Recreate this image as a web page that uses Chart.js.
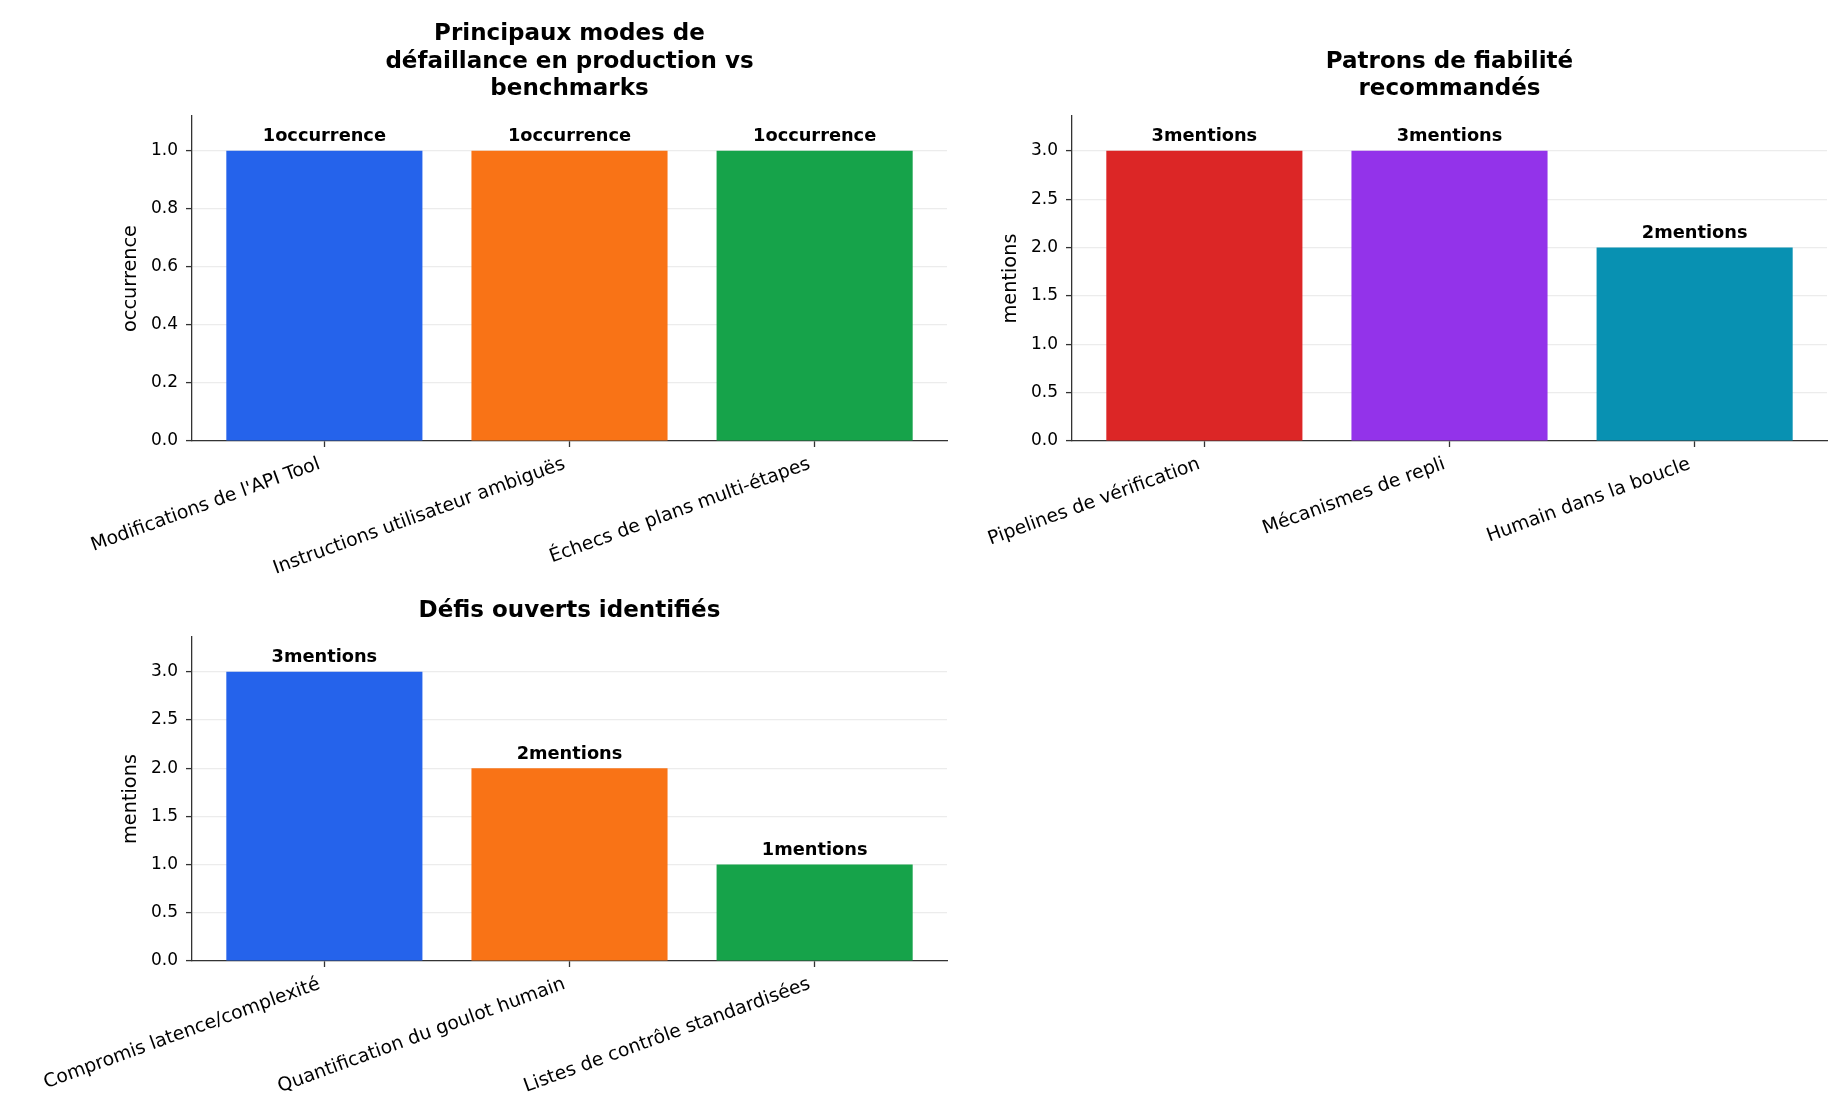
<!DOCTYPE html>
<html>
<head>
<meta charset="utf-8">
<script src="https://cdn.jsdelivr.net/npm/chart.js@4/dist/chart.umd.min.js"></script>
<style>
  body { margin: 0; background: #fff; }
  #page { position: relative; width: 1848px; height: 1120px; }
  canvas { position: absolute; }
</style>
</head>
<body>
<div id="page">
  <canvas id="c_modes" width="960" height="580" style="left:0px;top:0px"></canvas>
  <canvas id="c_patrons" width="968" height="580" style="left:880px;top:0px"></canvas>
  <canvas id="c_defis" width="960" height="540" style="left:0px;top:580px"></canvas>
</div>
<script>
// donnees
var titre_modes = ['Principaux modes de', 'défaillance en production vs', 'benchmarks'];
var modes = ["Modifications de l'API Tool", 'Instructions utilisateur ambiguës', 'Échecs de plans multi-étapes'];
var occurrences = [1, 1, 1];
var ticks_modes = [0, 0.2, 0.4, 0.6, 0.8, 1.0];

var titre_patrons = ['Patrons de fiabilité', 'recommandés'];
var patrons = ['Pipelines de vérification', 'Mécanismes de repli', 'Humain dans la boucle'];
var mentions_patrons = [3, 3, 2];
var ticks_patrons = [0, 0.5, 1.0, 1.5, 2.0, 2.5, 3.0];

var titre_defis = ['Défis ouverts identifiés'];
var defis = ['Compromis latence/complexité', 'Quantification du goulot humain', 'Listes de contrôle standardisées'];
var mentions_defis = [3, 2, 1];
var ticks_defis = [0, 0.5, 1.0, 1.5, 2.0, 2.5, 3.0];

var couleurs_a = ['#2563eb', '#f97316', '#16a34a'];
var couleurs_b = ['#dc2626', '#9333ea', '#0891b2'];

var police = 'DejaVu Sans';

// etiquettes au-dessus des barres ("3mentions")
var etiquettes = {
    id: 'etiquettes',
    afterDatasetsDraw: function(chart) {
        var ctx = chart.ctx;
        var unite = chart.options.plugins.etiquettes.unite;
        var meta = chart.getDatasetMeta(0);
        ctx.save();
        ctx.font = 'bold 17.8px "' + police + '"';
        ctx.fillStyle = '#000';
        ctx.textAlign = 'center';
        ctx.textBaseline = 'alphabetic';
        meta.data.forEach(function(bar, i) {
            var v = chart.data.datasets[0].data[i].y;
            ctx.fillText(v + unite, bar.x, bar.y - 9.5);
        });
        ctx.restore();
    }
};

function make_chart(id, titre, cats, vals, unite, yticks, couleurs, pad_titre, haut_x, droite)
{
    var points = cats.map(function(c, i) { return {x: i, y: vals[i]}; });
    var ymax = Math.max.apply(null, vals) * 1.12;

    return new Chart(document.getElementById(id), {
        type: 'bar',
        data: {
            datasets: [{
                data: points,
                backgroundColor: couleurs,
                borderWidth: 0,
                categoryPercentage: 1.0,
                barPercentage: 0.8
            }]
        },
        options: {
            responsive: false,
            animation: false,
            layout: { padding: { left: 0, right: droite, top: 0, bottom: 0 } },
            plugins: {
                legend: { display: false },
                tooltip: { enabled: false },
                title: {
                    display: true,
                    fullSize: false,
                    text: titre,
                    color: '#000',
                    font: { family: police, size: 23, weight: 'bold', lineHeight: 1.2 },
                    padding: pad_titre
                },
                etiquettes: { unite: unite }
            },
            scales: {
                x: {
                    type: 'linear',
                    min: -0.54,
                    max: cats.length - 1 + 0.54,
                    offset: false,
                    afterBuildTicks: function(scale) {
                        scale.ticks = cats.map(function(c, i) { return {value: i}; });
                    },
                    afterFit: function(scale) { scale.height = haut_x; },
                    grid: {
                        display: true,
                        offset: false,
                        drawOnChartArea: false,
                        drawTicks: true,
                        tickLength: 6,
                        tickColor: '#333',
                        tickWidth: 1.3
                    },
                    border: { display: true, color: '#333', width: 1.3 },
                    ticks: {
                        autoSkip: false,
                        maxRotation: 20,
                        minRotation: 20,
                        padding: 6,
                        labelOffset: -5,
                        color: '#000',
                        font: { family: police, size: 18.8 },
                        callback: function(v) { return cats[v]; }
                    }
                },
                y: {
                    min: 0,
                    max: ymax,
                    z: 1,
                    afterBuildTicks: function(scale) {
                        scale.ticks = yticks.map(function(t) { return {value: t}; });
                    },
                    afterFit: function(scale) { scale.width = 192; },
                    grid: {
                        color: 'rgba(200,200,200,0.35)',
                        lineWidth: 1.2,
                        tickColor: '#333',
                        tickWidth: 1.3,
                        tickLength: 6
                    },
                    border: { display: true, color: '#333', width: 1.3 },
                    ticks: {
                        padding: 8,
                        color: '#000',
                        font: { family: police, size: 17 },
                        callback: function(v) { return Number(v).toFixed(1); }
                    },
                    title: {
                        display: true,
                        text: unite,
                        color: '#000',
                        font: { family: police, size: 19.3 },
                        padding: { top: 119.5, bottom: 0 }
                    }
                }
            }
        },
        plugins: [etiquettes]
    });
}

make_chart('c_modes', titre_modes, modes, occurrences, 'occurrence', ticks_modes, couleurs_a, {top: 20.2, bottom: 13}, 139, 13);
make_chart('c_patrons', titre_patrons, patrons, mentions_patrons, 'mentions', ticks_patrons, couleurs_b, {top: 47.8, bottom: 13}, 139, 21);
make_chart('c_defis', titre_defis, defis, mentions_defis, 'mentions', ticks_defis, couleurs_a, {top: 17.7, bottom: 11.7}, 159, 13);
</script>
</body>
</html>
